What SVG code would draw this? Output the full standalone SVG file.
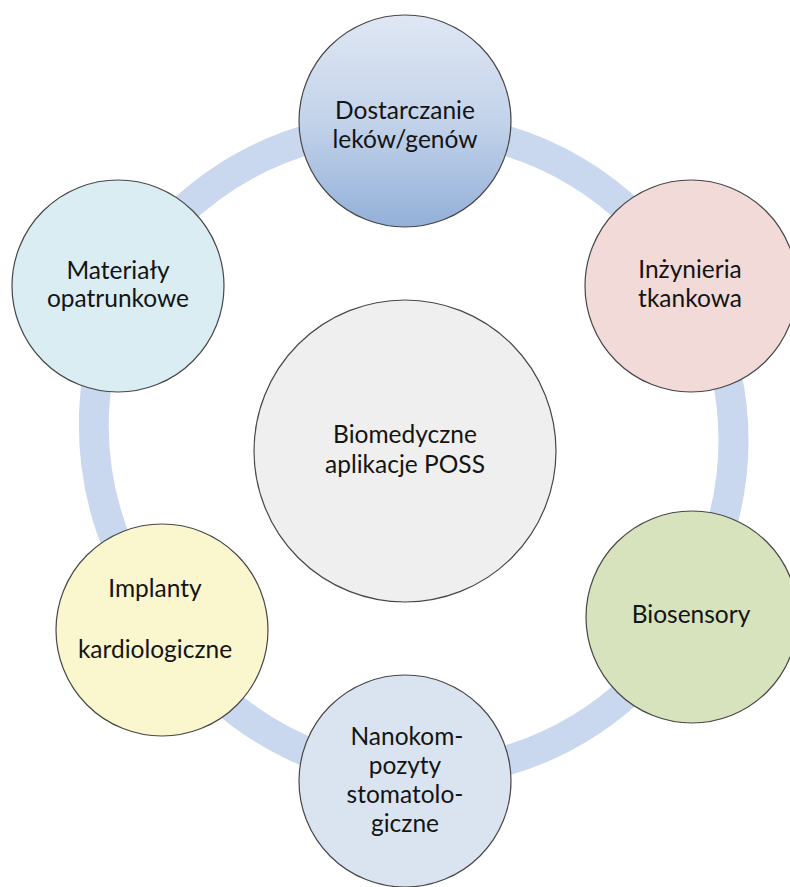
<svg xmlns="http://www.w3.org/2000/svg" width="790" height="887" viewBox="0 0 790 887">
  <defs>
    <linearGradient id="gTop" x1="0" y1="0" x2="0" y2="1">
      <stop offset="0" stop-color="#dfe7f4"/>
      <stop offset="0.5" stop-color="#c3d3ea"/>
      <stop offset="1" stop-color="#93b0d9"/>
    </linearGradient>
  </defs>
  <style>
    .ring { fill: none; stroke: #c9d8ee; stroke-width: 30; stroke-linecap: butt; }
    .node { stroke: #474747; stroke-width: 1.2; }
    .lbl { font-family: Lato, "Liberation Sans", sans-serif; font-size: 24.5px; fill: #141414; text-anchor: middle; }
  </style>
  <rect x="0" y="0" width="790" height="887" fill="#ffffff"/>
  <g id="connectors">
    <path class="ring" d="M175,218 A318,318 0 0 1 317,137"/>
    <path class="ring" d="M493,137 A318,318 0 0 1 635,217"/>
    <path class="ring" d="M726,372 A318,318 0 0 1 721,528"/>
    <path class="ring" d="M636,685 A318,318 0 0 1 490,765"/>
    <path class="ring" d="M323,758 A318,318 0 0 1 220,697"/>
    <path class="ring" d="M119,549 A318,318 0 0 1 98,374"/>
  </g>
  <g id="center">
    <circle class="node" cx="405" cy="451" r="151" fill="#efefef"/>
    <text class="lbl" x="405" y="443">Biomedyczne</text>
    <text class="lbl" x="405" y="473">aplikacje POSS</text>
  </g>
  <g id="node-dostarczanie">
    <circle class="node" cx="405" cy="121" r="106" fill="url(#gTop)"/>
    <text class="lbl" x="405" y="119">Dostarczanie</text>
    <text class="lbl" x="405" y="148">leków/genów</text>
  </g>
  <g id="node-inzynieria">
    <circle class="node" cx="691" cy="286" r="106" fill="#f1dad7"/>
    <text class="lbl" x="690" y="278">Inżynieria</text>
    <text class="lbl" x="690" y="307">tkankowa</text>
  </g>
  <g id="node-biosensory">
    <circle class="node" cx="692" cy="617" r="106" fill="#d7e3bd"/>
    <text class="lbl" x="691" y="623">Biosensory</text>
  </g>
  <g id="node-nanokompozyty">
    <circle class="node" cx="405" cy="781" r="106" fill="#dae4f1"/>
    <text class="lbl" x="407" y="745">Nanokom-</text>
    <text class="lbl" x="405" y="774">pozyty</text>
    <text class="lbl" x="405" y="803">stomatolo-</text>
    <text class="lbl" x="405" y="832">giczne</text>
  </g>
  <g id="node-implanty">
    <circle class="node" cx="162" cy="630" r="106" fill="#faf6cd"/>
    <text class="lbl" x="155" y="597">Implanty</text>
    <text class="lbl" x="155" y="658">kardiologiczne</text>
  </g>
  <g id="node-materialy">
    <circle class="node" cx="118" cy="286" r="106" fill="#d9edf3"/>
    <text class="lbl" x="118" y="279">Materiały</text>
    <text class="lbl" x="118" y="307">opatrunkowe</text>
  </g>
</svg>
